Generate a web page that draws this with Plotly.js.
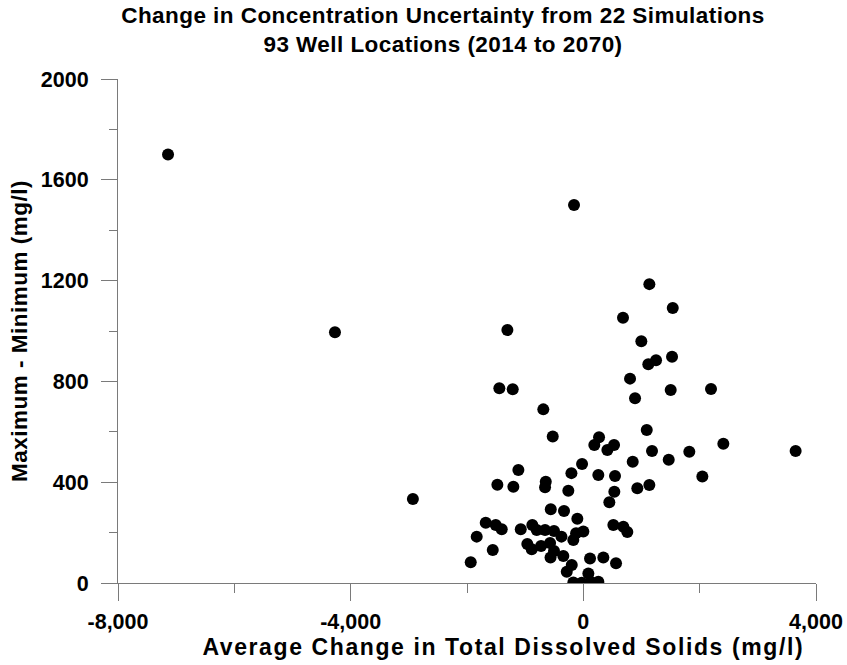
<!DOCTYPE html>
<html>
<head>
<meta charset="utf-8">
<script src="https://cdn.plot.ly/plotly-3.0.1.min.js"></script>
<style>
html,body{margin:0;padding:0;background:#fff;}
#chart{width:847px;height:665px;}
#chart .gtitle{letter-spacing:0.45px;}
#chart .ytitle{letter-spacing:0.5px;}
#chart .annotation-text{letter-spacing:1.6px;}
</style>
</head>
<body>
<div id="chart"></div>
<script>
// Average change in TDS (mg/l) for each well
const avgChange = [
  -7140, -4270, -2930, -160, 3650,
  1135, 1537, 682, -1306, 997, 1250, 1117, 1525, 803, 889, 1502, 2195,
  -1444, -1214, -688,
  1090, -526, 270, 189, 528, 413, 1181, 2407, 1822, 1468, 849,
  -22, 2046, 1135, -205, 258, 545, -1117, -1478, -1203, -646, -658, -258, 533, 447, 928,
  -560, -332, -103,
  516, 688, 756,
  -1678, -1506, -1403, -1833, -1557, -1936,
  -1076, -877, -801, -963, -887,
  -658, -504, -376, -727, -572, -504, -564,
  -125, 0, -172,
  -344, -199, -285, 115, 344, 562, 86,
  -172, -28, 130, 258
];
// Maximum - Minimum (mg/l) for each well
const rangeMaxMin = [
  1700, 995, 333, 1500, 524,
  1186, 1091, 1053, 1004, 959, 884, 868, 898, 811, 733, 766, 770,
  773, 769, 689,
  607, 581, 578, 548, 548, 528, 524, 553, 521, 489, 481,
  472, 423, 389, 436, 429, 425, 448, 390, 382, 402, 380, 366, 362, 320, 376,
  293, 286, 255,
  230, 223, 202,
  239, 230, 213, 184, 131, 82,
  213, 230, 210, 155, 134,
  210, 206, 184, 147, 159, 127, 101,
  197, 204, 171,
  107, 71, 45, 97, 101, 78, 38,
  2, 1, 4, 5
];
const xTickVals = [-8000, -4000, 0, 4000];
const xTickText = ["-8,000", "-4,000", "0", "4,000"];
const yTickVals = [0, 400, 800, 1200, 1600, 2000];
const yTickText = ["0", "400", "800", "1200", "1600", "2000"];

const FONT = "Liberation Sans, Arial, sans-serif";
const axisGray = "#7a7a7a";

const trace = {
  type: "scatter",
  mode: "markers",
  x: avgChange,
  y: rangeMaxMin,
  marker: {color: "#000", size: 12, line: {width: 0}},
  hoverinfo: "x+y"
};

const layout = {
  width: 847, height: 665,
  margin: {l: 118, r: 31, t: 79, b: 82, pad: 0},
  paper_bgcolor: "#fff", plot_bgcolor: "#fff",
  showlegend: false,
  font: {family: FONT, color: "#000"},
  title: {
    text: "<b>Change in Concentration Uncertainty from 22 Simulations<br>93 Well Locations (2014 to 2070)</b>",
    font: {family: FONT, size: 22.5, color: "#000"},
    x: 0.4656, xref: "paper", xanchor: "center",
    y: 0.966, yref: "container", yanchor: "top"
  },
  xaxis: {
    range: [-8000, 4000],
    tickmode: "array", tickvals: xTickVals, ticktext: xTickText,
    ticks: "outside", ticklen: 17, tickwidth: 1, tickcolor: axisGray,
    minor: {tickmode: "array", tickvals: [-6000, -2000, 2000], ticks: "outside", ticklen: 9, tickcolor: axisGray, tickwidth: 1},
    showline: true, linecolor: axisGray, linewidth: 1,
    showgrid: false, zeroline: false,
    ticklabelstandoff: 2,
    tickfont: {family: FONT, size: 21.5, color: "#000", weight: "bold"},
    title: {text: ""}
  },
  yaxis: {
    range: [0, 2000],
    tickmode: "array", tickvals: yTickVals, ticktext: yTickText,
    ticks: "outside", ticklen: 16, tickwidth: 1, tickcolor: axisGray,
    minor: {tickmode: "array", tickvals: [200, 600, 1000, 1400, 1800], ticks: "outside", ticklen: 8, tickcolor: axisGray, tickwidth: 1},
    showline: true, linecolor: axisGray, linewidth: 1,
    showgrid: false, zeroline: false,
    ticklabelstandoff: 8,
    tickfont: {family: FONT, size: 21.5, color: "#000", weight: "bold"},
    title: {text: "<b>Maximum - Minimum (mg/l)</b>", font: {family: FONT, size: 22.5, color: "#000"}, standoff: 6}
  },
  annotations: [{
    text: "<b>Average Change in Total Dissolved Solids (mg/l)</b>",
    xref: "paper", yref: "paper",
    x: 0.553, y: 0, yshift: -49,
    xanchor: "center", yanchor: "top",
    showarrow: false,
    font: {family: FONT, size: 23, color: "#000"}
  }]
};

Plotly.newPlot("chart", [trace], layout, {displayModeBar: false, staticPlot: true});
</script>
</body>
</html>
